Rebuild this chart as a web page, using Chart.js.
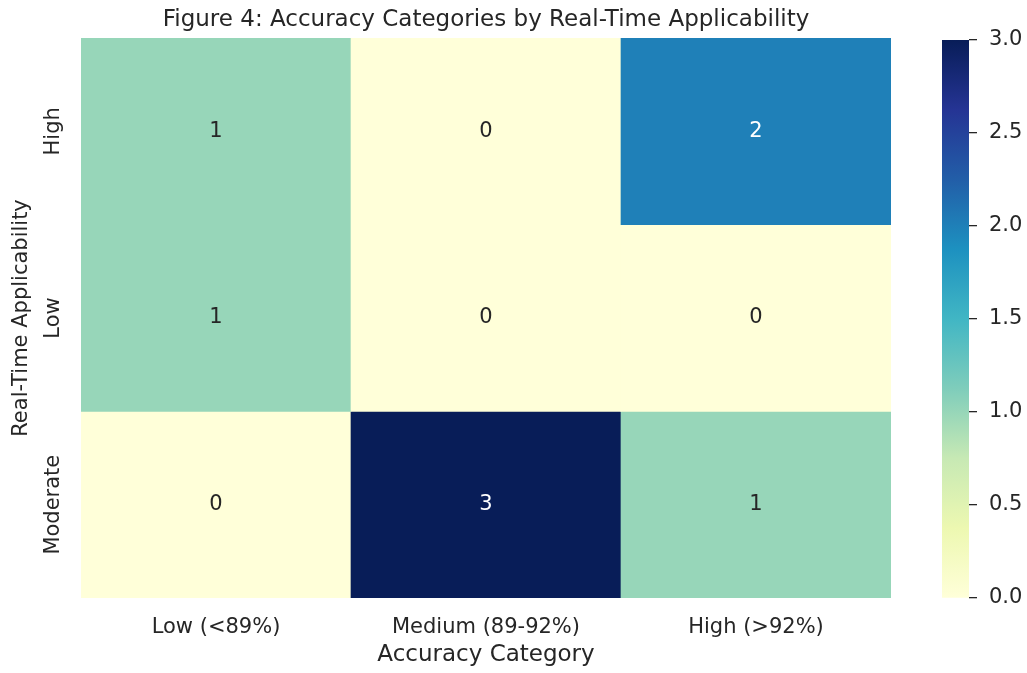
<!DOCTYPE html>
<html>
<head>
<meta charset="utf-8">
<script src="https://cdn.jsdelivr.net/npm/chart.js@4.4.1/dist/chart.umd.min.js"></script>
<style>
  html, body { margin: 0; padding: 0; background: #fff; }
  #wrap { position: relative; width: 1027px; height: 673px; }
  #heat { position: absolute; left: 0; top: 0; }
  #cbar { position: absolute; left: 900px; top: 0; }
</style>
</head>
<body>
<div id="wrap">
  <canvas id="heat" width="900" height="673"></canvas>
  <canvas id="cbar" width="127" height="673"></canvas>
</div>
<script>
/* heatmap data: rows top -> bottom, columns left -> right */
const xLabels = ['Low (<89%)', 'Medium (89-92%)', 'High (>92%)'];
const yLabels = ['High', 'Low', 'Moderate'];
const counts = [
  [1, 0, 2],
  [1, 0, 0],
  [0, 3, 1],
];
const cbTicks = [0, 0.5, 1, 1.5, 2, 2.5, 3];
const vmin = 0, vmax = 3;

const TXT = '#262626';
const FONT = 'DejaVu Sans';

/* YlGnBu */
const YLGNBU = ['#ffffd9', '#edf8b1', '#c7e9b4', '#7fcdbb', '#41b6c4', '#1d91c0', '#225ea8', '#253494', '#081d58'];
const hex = h => [1, 3, 5].map(i => parseInt(h.substr(i, 2), 16));
function cmap(v) {
  const t = Math.max(0, Math.min(1, (v - vmin) / (vmax - vmin))) * (YLGNBU.length - 1);
  const i = Math.min(Math.floor(t), YLGNBU.length - 2), f = t - i;
  const a = hex(YLGNBU[i]), b = hex(YLGNBU[i + 1]);
  const c = a.map((x, k) => Math.round(x + (b[k] - x) * f));
  return { css: `rgb(${c[0]},${c[1]},${c[2]})`, lum: (0.299 * c[0] + 0.587 * c[1] + 0.114 * c[2]) / 255 };
}

/* one dataset per row, floating bars spanning [row, row+1] on a linear y */
const nRows = yLabels.length;
const datasets = yLabels.map((r, ri) => {
  const lo = nRows - 1 - ri;
  return {
    label: r,
    data: counts[ri].map(() => [lo, lo + 1]),
    backgroundColor: counts[ri].map(v => cmap(v).css),
    borderWidth: 0,
    barPercentage: 1,
    categoryPercentage: 1,
    grouped: false,
  };
});

/* annotations, y tick labels, title */
const heatDecor = {
  id: 'heatDecor',
  afterDatasetsDraw(chart) {
    const { ctx, scales: { x, y }, chartArea: ca } = chart;
    ctx.save();
    ctx.textAlign = 'center';
    ctx.textBaseline = 'middle';
    ctx.font = `21px "${FONT}"`;
    counts.forEach((row, ri) => {
      const cy = y.getPixelForValue(nRows - 1 - ri + 0.5);
      row.forEach((v, ci) => {
        ctx.fillStyle = cmap(v).lum > 0.5 ? TXT : '#ffffff';
        ctx.fillText(String(v), x.getPixelForValue(ci), cy);
      });
    });
    // y tick labels, rotated
    ctx.fillStyle = TXT;
    yLabels.forEach((lab, ri) => {
      const cy = y.getPixelForValue(nRows - 1 - ri + 0.5);
      ctx.save();
      ctx.translate(54, cy);
      ctx.rotate(-Math.PI / 2);
      ctx.font = `21px "${FONT}"`;
      ctx.fillText(lab, 0, 0);
      ctx.restore();
    });
    // y axis title
    ctx.save();
    ctx.translate(22, (ca.top + ca.bottom) / 2);
    ctx.rotate(-Math.PI / 2);
    ctx.font = `21px "${FONT}"`;
    ctx.fillText('Real-Time Applicability', 0, 0);
    ctx.restore();
    // title
    ctx.font = `23px "${FONT}"`;
    ctx.fillText('Figure 4: Accuracy Categories by Real-Time Applicability', (ca.left + ca.right) / 2, 20);
    ctx.restore();
  }
};

new Chart(document.getElementById('heat'), {
  type: 'bar',
  data: { labels: xLabels, datasets },
  options: {
    responsive: false,
    animation: false,
    layout: { padding: { top: 38, right: 9, left: 0, bottom: 0 } },
    plugins: { legend: { display: false }, tooltip: { enabled: false } },
    scales: {
      x: {
        grid: { display: false },
        border: { display: false },
        ticks: { color: TXT, font: { family: FONT, size: 21 }, padding: 9, maxRotation: 0 },
        title: { display: true, text: 'Accuracy Category', color: TXT, font: { family: FONT, size: 23 }, padding: { top: 0, bottom: 4 } },
        afterFit: s => { s.height = 75; },
      },
      y: {
        min: 0, max: nRows,
        grid: { display: false },
        border: { display: false },
        ticks: { display: false },
        afterFit: s => { s.width = 81; },
      }
    }
  },
  plugins: [heatDecor]
});

/* colorbar */
new Chart(document.getElementById('cbar'), {
  type: 'bar',
  data: {
    labels: ['cb'],
    datasets: [{
      data: [[vmin, vmax]],
      borderWidth: 0,
      barPercentage: 1,
      categoryPercentage: 1,
      backgroundColor: c => {
        const ca = c.chart.chartArea;
        if (!ca) return YLGNBU[0];
        const g = c.chart.ctx.createLinearGradient(0, ca.bottom, 0, ca.top);
        YLGNBU.forEach((col, i) => g.addColorStop(i / (YLGNBU.length - 1), col));
        return g;
      }
    }]
  },
  options: {
    responsive: false,
    animation: false,
    layout: { padding: { top: 40, bottom: 75, left: 42, right: 0 } },
    plugins: { legend: { display: false }, tooltip: { enabled: false } },
    scales: {
      x: { display: false },
      y: {
        position: 'right',
        min: vmin, max: vmax,
        afterBuildTicks: s => { s.ticks = cbTicks.map(v => ({ value: v })); },
        border: { display: false },
        grid: { drawOnChartArea: false, drawTicks: true, tickLength: 8, color: TXT, lineWidth: 1.3 },
        ticks: { color: TXT, font: { family: FONT, size: 21 }, padding: 12, callback: v => Number(v).toFixed(1) },
        afterFit: s => { s.width = 58; },
      }
    }
  }
});
</script>
</body>
</html>
